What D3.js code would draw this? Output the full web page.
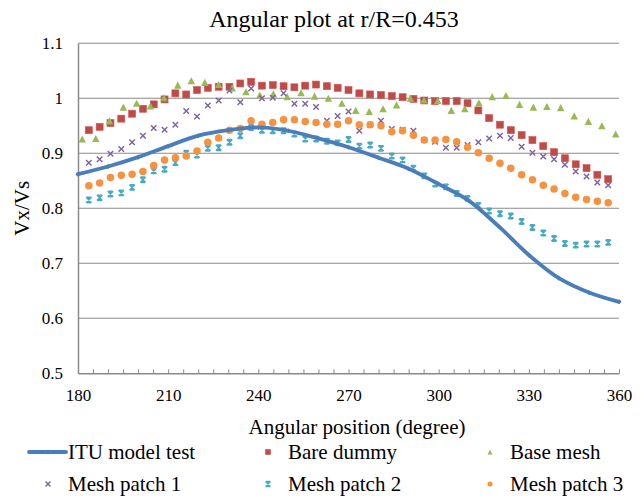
<!DOCTYPE html>
<html>
<head>
<meta charset="utf-8">
<script src="https://cdn.jsdelivr.net/npm/d3@7"></script>
<style>
  html, body { margin: 0; padding: 0; background: #fff; }
  svg { display: block; }
  text { font-family: "Liberation Serif", "Times New Roman", serif; fill: #000; }
</style>
</head>
<body>
<svg id="chart" width="644" height="498"></svg>
<script>
// ---------------- data ----------------
const titleText = "Angular plot at r/R=0.453";
const xTitle = "Angular position (degree)";
const yTitle = "Vx/Vs";
const xTickLabels = [180, 210, 240, 270, 300, 330, 360];
const yTickLabels = [0.5, 0.6, 0.7, 0.8, 0.9, 1.0, 1.1];

const angleITU = [180, 190, 200, 210, 220, 230, 240, 250, 260, 270, 280, 290, 300, 310, 320, 330, 340, 350, 360];
const ituModelTest = [0.862, 0.876, 0.893, 0.913, 0.932, 0.942, 0.947, 0.941, 0.927, 0.911, 0.892, 0.872, 0.844, 0.814, 0.767, 0.715, 0.673, 0.647, 0.630];

const angleCFD = [183.6, 187.2, 190.8, 194.4, 198.0, 201.6, 205.2, 208.8, 212.4, 216.0,
  219.6, 223.2, 226.8, 230.4, 234.0, 237.6, 241.2, 244.8, 248.4, 252.0,
  255.6, 259.2, 262.8, 266.4, 270.0, 273.6, 277.2, 280.8, 284.4, 288.0,
  291.6, 295.2, 298.8, 302.4, 306.0, 309.6, 313.2, 316.8, 320.4, 324.0,
  327.6, 331.2, 334.8, 338.4, 342.0, 345.6, 349.2, 352.8, 356.4];

const bareDummy = [0.942, 0.948, 0.955, 0.963, 0.972, 0.981, 0.989, 0.998, 1.009, 1.007,
  1.015, 1.019, 1.021, 1.021, 1.027, 1.030, 1.023, 1.024, 1.022, 1.020,
  1.023, 1.025, 1.022, 1.019, 1.015, 1.009, 1.007, 1.006, 1.004, 1.002,
  0.999, 0.996, 0.995, 0.995, 0.995, 0.991, 0.978, 0.964, 0.952, 0.942,
  0.933, 0.924, 0.913, 0.902, 0.891, 0.880, 0.873, 0.861, 0.853];

const meshPatch1 = [0.883, 0.889, 0.899, 0.908, 0.920, 0.932, 0.946, 0.943, 0.952, 0.977,
  0.967, 0.987, 0.996, 1.014, 0.993, 1.018, 1.000, 1.001, 1.009, 0.990,
  0.990, 0.984, 0.959, 0.968, 0.976, 0.941, 0.952, 0.959, 0.944, 0.943,
  0.941, 0.924, 0.921, 0.910, 0.910, 0.915, 0.920, 0.927, 0.932, 0.928,
  0.912, 0.901, 0.894, 0.889, 0.879, 0.867, 0.858, 0.847, 0.842];

const meshPatch2 = [0.815, 0.819, 0.826, 0.828, 0.838, 0.852, 0.868, 0.871, 0.883, 0.900,
  0.897, 0.909, 0.910, 0.920, 0.932, 0.947, 0.942, 0.941, 0.941, 0.935,
  0.926, 0.926, 0.922, 0.919, 0.925, 0.913, 0.915, 0.909, 0.895, 0.888,
  0.873, 0.859, 0.844, 0.839, 0.827, 0.818, 0.805, 0.795, 0.790, 0.786,
  0.776, 0.765, 0.755, 0.745, 0.736, 0.733, 0.735, 0.735, 0.738];

const meshPatch3 = [0.841, 0.846, 0.856, 0.860, 0.862, 0.867, 0.878, 0.888, 0.892, 0.895,
  0.904, 0.920, 0.928, 0.942, 0.945, 0.959, 0.953, 0.956, 0.961, 0.961,
  0.958, 0.956, 0.953, 0.953, 0.959, 0.952, 0.952, 0.950, 0.939, 0.941,
  0.933, 0.924, 0.924, 0.925, 0.921, 0.911, 0.901, 0.891, 0.882, 0.873,
  0.861, 0.852, 0.842, 0.835, 0.827, 0.820, 0.816, 0.813, 0.810];

const angleBase = [181.4, 185.9, 190.5, 195.1, 199.5, 204.1, 208.6, 213.2, 217.7, 222.2,
  226.8, 231.3, 235.9, 240.5, 245.0, 249.6, 254.2, 258.7, 263.3, 267.8,
  272.4, 276.9, 281.5, 286.0, 290.6, 295.1, 299.7, 304.2, 308.7, 313.4,
  317.8, 322.4, 326.9, 331.5, 336.0, 340.6, 345.1, 349.8, 354.3, 358.9];

const baseMesh = [0.926, 0.927, 0.959, 0.984, 0.991, 0.986, 1.001, 1.024, 1.032, 1.029,
  1.025, 1.019, 1.012, 1.006, 1.008, 1.003, 1.010, 1.004, 1.000, 0.991,
  0.978, 0.976, 0.981, 0.988, 1.000, 0.997, 0.996, 0.978, 0.981, 0.992,
  1.003, 1.005, 0.989, 0.984, 0.985, 0.983, 0.968, 0.958, 0.950, 0.935];

const seriesNames = ["ITU model test", "Bare dummy", "Base mesh", "Mesh patch 1", "Mesh patch 2", "Mesh patch 3"];
const seriesColors = ["#4A7EBB", "#BE4B48", "#98B954", "#7D60A0", "#46AAC5", "#F69240"];

// ---------------- drawing ----------------
const svg = d3.select("#chart");
const x = d3.scaleLinear().domain([180, 360]).range([78, 619]);
const y = d3.scaleLinear().domain([0.5, 1.1]).range([373.3, 43.3]);

// gridlines
svg.append("g").selectAll("line")
  .data(yTickLabels.filter(v => v > 0.5))
  .join("line")
  .attr("x1", x(180)).attr("x2", x(360))
  .attr("y1", d => y(d)).attr("y2", d => y(d))
  .attr("stroke", "#8a8a8a").attr("stroke-width", 1.1);

// x axis: ticks every 5 degrees pointing inward, labels every 30
const xTicksAll = d3.range(180, 361, 5);
const xAxis = d3.axisBottom(x)
  .tickValues(xTicksAll)
  .tickSizeInner(-4).tickSizeOuter(0)
  .tickPadding(16)
  .tickFormat(d => xTickLabels.includes(d) ? d3.format("d")(d) : "");
const gx = svg.append("g").attr("transform", `translate(0,${y(0.5)})`).call(xAxis);
gx.select(".domain").attr("stroke", "#8a8a8a").attr("stroke-width", 1.5);
gx.selectAll(".tick line").attr("stroke", "#8a8a8a").attr("stroke-width", 1);
gx.selectAll(".tick text").style("font-family", "Liberation Serif, serif").style("font-size", "17px").attr("fill", "#000");

// y axis
const yAxis = d3.axisLeft(y)
  .tickValues(yTickLabels)
  .tickSize(0)
  .tickPadding(15)
  .tickFormat(d => d === 1 ? "1" : d3.format(".1f")(d));
const gy = svg.append("g").attr("transform", `translate(${x(180)},0)`).call(yAxis);
gy.select(".domain").attr("stroke", "#8a8a8a").attr("stroke-width", 1.5);
gy.selectAll(".tick text").style("font-family", "Liberation Serif, serif").style("font-size", "17px").attr("fill", "#000");

// title & axis titles
svg.append("text").attr("x", 334).attr("y", 27).attr("text-anchor", "middle")
  .style("font-size", "24px").text(titleText);
svg.append("text").attr("x", 357).attr("y", 434).attr("text-anchor", "middle")
  .style("font-size", "21px").text(xTitle);
svg.append("text").attr("transform", `translate(29,${y(0.8)}) rotate(-90)`).attr("text-anchor", "middle")
  .style("font-size", "21px").text(yTitle);

// marker drawing helpers
function drawMarker(g, type, color, size) {
  const s = size;
  if (type === "square") {
    g.append("rect").attr("x", -s / 2).attr("y", -s / 2).attr("width", s).attr("height", s)
      .attr("fill", color).attr("stroke", d3.color(color).brighter(0.3)).attr("stroke-width", 0.6);
  } else if (type === "triangle") {
    const h = s * 0.95;
    g.append("path").attr("d", `M0,${-h / 2}L${s / 2},${h / 2}L${-s / 2},${h / 2}Z`).attr("fill", color);
  } else if (type === "x") {
    const r = s / 2;
    g.append("path").attr("d", `M${-r},${-r}L${r},${r}M${-r},${r}L${r},${-r}`)
      .attr("stroke", color).attr("stroke-width", 1.4).attr("fill", "none");
  } else if (type === "star") {
    const r = s / 2;
    g.append("path").attr("d", `M${-r},${-r}L${r},${r}M${-r},${r}L${r},${-r}M0,${-r}L0,${r}M${-r*0.8},${-r}L${r*0.8},${-r}M${-r*0.8},${r}L${r*0.8},${r}`)
      .attr("stroke", color).attr("stroke-width", 1.4).attr("fill", "none");
  } else if (type === "circle") {
    g.append("circle").attr("r", s / 2).attr("fill", color);
  } else if (type === "diamond") {
    const r = s / 2;
    g.append("path").attr("d", `M0,${-r}L${r},0L0,${r}L${-r},0Z`).attr("fill", color);
  }
}

function scatter(xs, ys, type, color, size) {
  const g = svg.append("g");
  g.selectAll("g").data(ys.map((v, i) => [xs[i], v])).join("g")
    .attr("transform", d => `translate(${x(d[0])},${y(d[1])})`)
    .each(function () { drawMarker(d3.select(this), type, color, size); });
}

// scatter series
scatter(angleCFD, bareDummy, "square", seriesColors[1], 7);
scatter(angleBase, baseMesh, "triangle", seriesColors[2], 7.5);
scatter(angleCFD, meshPatch1, "x", seriesColors[3], 5.5);
scatter(angleCFD, meshPatch2, "star", seriesColors[4], 5.5);
scatter(angleCFD, meshPatch3, "circle", seriesColors[5], 7.5);

// ITU smooth line with diamond markers
const line = d3.line().x((d, i) => x(angleITU[i])).y(d => y(d)).curve(d3.curveCatmullRom.alpha(0.5));
svg.append("path").datum(ituModelTest).attr("d", line)
  .attr("fill", "none").attr("stroke", seriesColors[0]).attr("stroke-width", 3.8).attr("stroke-linecap", "round");
scatter(angleITU, ituModelTest, "diamond", seriesColors[0], 5);

// legend
const legendItems = [
  { name: seriesNames[0], type: "line", col: 0, row: 0 },
  { name: seriesNames[1], type: "square", col: 1, row: 0 },
  { name: seriesNames[2], type: "triangle", col: 2, row: 0 },
  { name: seriesNames[3], type: "x", col: 0, row: 1 },
  { name: seriesNames[4], type: "star", col: 1, row: 1 },
  { name: seriesNames[5], type: "circle", col: 2, row: 1 }
];
const colText = [68, 288, 510];
const rowY = [452, 484];
legendItems.forEach((it, i) => {
  const g = svg.append("g");
  const cy = rowY[it.row];
  const tx = colText[it.col];
  if (it.type === "line") {
    g.append("line").attr("x1", tx - 39).attr("x2", tx - 2).attr("y1", cy).attr("y2", cy)
      .attr("stroke", seriesColors[i]).attr("stroke-width", 3.8).attr("stroke-linecap", "round");
    const m = g.append("g").attr("transform", `translate(${tx - 20},${cy})`);
    drawMarker(m, "diamond", seriesColors[i], 5);
  } else {
    const m = g.append("g").attr("transform", `translate(${tx - 20},${cy})`);
    drawMarker(m, it.type, seriesColors[i], 5);
  }
  g.append("text").attr("x", tx).attr("y", cy + 7).style("font-size", "21px").text(it.name);
});
</script>
</body>
</html>
